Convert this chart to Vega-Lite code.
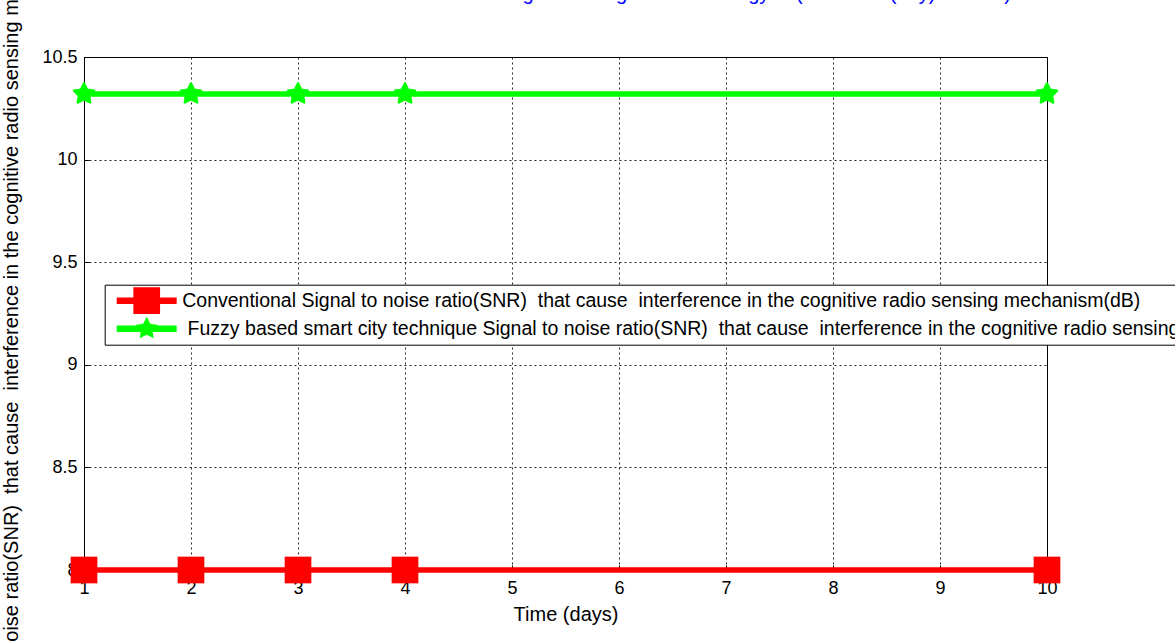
{
  "$schema": "https://vega.github.io/schema/vega-lite/v6.json",
  "width": 963,
  "height": 513,
  "autosize": {"type": "none"},
  "padding": {"left": 84, "top": 57, "right": 128, "bottom": 71},
  "background": "white",
  "config": {
    "font": "Liberation Sans",
    "view": {"stroke": "#000000", "strokeWidth": 1}
  },
  "title": {
    "text": "SNR that cause interference in a radio sensing for testing of noise energy in (Time unit (day) in SNR)",
    "fontSize": 20,
    "fontWeight": "normal",
    "font": "Liberation Sans",
    "color": "#0000FF",
    "anchor": "middle",
    "frame": "group",
    "baseline": "alphabetic",
    "offset": -145
  },
  "data": {
    "values": [
      {"day": 1, "snr": 8.0, "series": "Conventional Signal to noise ratio(SNR)  that cause  interference in the cognitive radio sensing mechanism(dB)"},
      {"day": 2, "snr": 8.0, "series": "Conventional Signal to noise ratio(SNR)  that cause  interference in the cognitive radio sensing mechanism(dB)"},
      {"day": 3, "snr": 8.0, "series": "Conventional Signal to noise ratio(SNR)  that cause  interference in the cognitive radio sensing mechanism(dB)"},
      {"day": 4, "snr": 8.0, "series": "Conventional Signal to noise ratio(SNR)  that cause  interference in the cognitive radio sensing mechanism(dB)"},
      {"day": 10, "snr": 8.0, "series": "Conventional Signal to noise ratio(SNR)  that cause  interference in the cognitive radio sensing mechanism(dB)"},
      {"day": 1, "snr": 10.32, "series": "Fuzzy based smart city technique Signal to noise ratio(SNR)  that cause  interference in the cognitive radio sensing mechanism(dB)"},
      {"day": 2, "snr": 10.32, "series": "Fuzzy based smart city technique Signal to noise ratio(SNR)  that cause  interference in the cognitive radio sensing mechanism(dB)"},
      {"day": 3, "snr": 10.32, "series": "Fuzzy based smart city technique Signal to noise ratio(SNR)  that cause  interference in the cognitive radio sensing mechanism(dB)"},
      {"day": 4, "snr": 10.32, "series": "Fuzzy based smart city technique Signal to noise ratio(SNR)  that cause  interference in the cognitive radio sensing mechanism(dB)"},
      {"day": 10, "snr": 10.32, "series": "Fuzzy based smart city technique Signal to noise ratio(SNR)  that cause  interference in the cognitive radio sensing mechanism(dB)"}
    ]
  },
  "encoding": {
    "x": {
      "field": "day",
      "type": "quantitative",
      "scale": {"domain": [1, 10], "nice": false, "zero": false},
      "axis": {
        "values": [1, 2, 3, 4, 5, 6, 7, 8, 9, 10],
        "grid": true,
        "gridColor": "#000000",
        "gridDash": [2, 3],
        "gridWidth": 1,
        "gridOpacity": 0.85,
        "domainColor": "#000000",
        "tickColor": "#000000",
        "tickSize": -5,
        "labelFontSize": 18,
        "labelColor": "#000000",
        "labelPadding": 14,
        "labelFlush": false,
        "labelOverlap": false,
        "title": "Time (days)",
        "titleFontSize": 20,
        "titleFontWeight": "normal",
        "titleColor": "#000000",
        "titleBaseline": "alphabetic",
        "titleY": 50,
        "zindex": 0
      }
    },
    "y": {
      "field": "snr",
      "type": "quantitative",
      "scale": {"domain": [8, 10.5], "nice": false, "zero": false},
      "axis": {
        "values": [8, 8.5, 9, 9.5, 10, 10.5],
        "format": "~g",
        "grid": true,
        "gridColor": "#000000",
        "gridDash": [2, 3],
        "gridWidth": 1,
        "gridOpacity": 0.85,
        "domainColor": "#000000",
        "tickColor": "#000000",
        "tickSize": -5,
        "labelFontSize": 18,
        "labelColor": "#000000",
        "labelPadding": 12,
        "labelFlush": false,
        "labelOverlap": false,
        "title": "Signal to noise ratio(SNR)\u00a0 that cause\u00a0 interference in the cognitive radio sensing mechanism(dB)",
        "titleFontSize": 20,
        "titleFontWeight": "normal",
        "titleColor": "#000000",
        "titleAngle": -90,
        "titleAlign": "center",
        "titleBaseline": "middle",
        "titleX": -73,
        "titleY": 248.5,
        "zindex": 0
      }
    },
    "color": {
      "field": "series",
      "type": "nominal",
      "scale": {
        "domain": [
          "Conventional Signal to noise ratio(SNR)  that cause  interference in the cognitive radio sensing mechanism(dB)",
          "Fuzzy based smart city technique Signal to noise ratio(SNR)  that cause  interference in the cognitive radio sensing mechanism(dB)"
        ],
        "range": ["#FF0000", "#00FF00"]
      },
      "legend": {
        "title": null,
        "orient": "none",
        "legendX": 20.7,
        "legendY": 227.7,
        "padding": 2,
        "strokeColor": "#000000",
        "fillColor": "#FFFFFF",
        "symbolSize": 729,
        "symbolStrokeWidth": 0,
        "symbolOpacity": 1,
        "symbolOffset": 26.5,
        "labelOffset": 22,
        "clipHeight": 28,
        "rowPadding": 0,
        "labelFont": "Liberation Sans",
        "labelFontSize": 19.5,
        "labelColor": "#000000",
        "labelLimit": 3000,
        "labelExpr": "(datum.index == 1 ? '\u200b\u00a0' : '') + replace(datum.label, /  /g, '\u00a0 ')"
      }
    }
  },
  "layer": [
    {
      "transform": [{"filter": "datum.snr < 0"}],
      "mark": {"type": "point", "filled": true, "opacity": 1, "size": 729},
      "encoding": {
        "shape": {
          "field": "series",
          "type": "nominal",
          "scale": {
            "domain": [
              "Conventional Signal to noise ratio(SNR)  that cause  interference in the cognitive radio sensing mechanism(dB)",
              "Fuzzy based smart city technique Signal to noise ratio(SNR)  that cause  interference in the cognitive radio sensing mechanism(dB)"
            ],
            "range": [
              "M-2.22,-0.24H2.22V0.24H-2.22Z M-0.99,-0.99H0.99V0.99H-0.99Z",
              "M-2.22,-0.24H2.22V0.24H-2.22Z M0,-0.88L0.265,-0.364L0.837,-0.272L0.428,0.139L0.517,0.712L0,0.45L-0.517,0.712L-0.428,0.139L-0.837,-0.272L-0.265,-0.364Z"
            ]
          },
          "legend": {
            "title": null,
            "orient": "none",
            "legendX": 20.7,
            "legendY": 227.7,
            "padding": 2,
            "strokeColor": "#000000",
            "fillColor": "#FFFFFF",
            "symbolSize": 729,
            "symbolStrokeWidth": 0,
            "symbolOpacity": 1,
            "symbolOffset": 26.5,
            "labelOffset": 22,
            "clipHeight": 28,
            "rowPadding": 0,
            "labelFont": "Liberation Sans",
            "labelFontSize": 19.5,
            "labelColor": "#000000",
            "labelLimit": 3000,
            "labelExpr": "(datum.index == 1 ? '\u200b\u00a0' : '') + replace(datum.label, /  /g, '\u00a0 ')"
          }
        }
      }
    },
    {
      "mark": {"type": "line", "strokeWidth": 5.5, "opacity": 1}
    },
    {
      "transform": [{"filter": "datum.snr < 9"}],
      "mark": {"type": "point", "shape": "square", "size": 713, "filled": true, "opacity": 1}
    },
    {
      "transform": [{"filter": "datum.snr > 9"}],
      "mark": {
        "type": "point",
        "shape": "M0,-1L0.294,-0.405L0.951,-0.309L0.476,0.155L0.588,0.809L0,0.5L-0.588,0.809L-0.476,0.155L-0.951,-0.309L-0.294,-0.405Z",
        "size": 440,
        "filled": true,
        "opacity": 1,
        "stroke": "#00FF00",
        "strokeWidth": 2.5,
        "strokeJoin": "round"
      }
    }
  ]
}
